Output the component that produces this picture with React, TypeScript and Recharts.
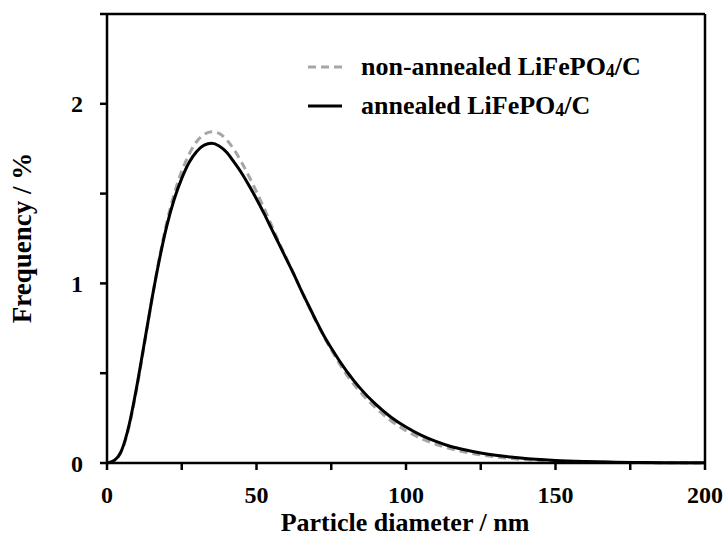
import { LineChart, Line, XAxis, YAxis, ReferenceLine, Label } from "recharts";

const diameters = [
  0, 2.5, 5, 7.5, 10, 12.5, 15, 17.5, 20, 22.5, 25, 27.5, 30, 32.5, 35, 37.5, 40, 42.5, 45, 47.5,
  50, 52.5, 55, 57.5, 60, 62.5, 65, 67.5, 70, 72.5, 75, 77.5, 80, 85, 90, 95, 100, 105, 110, 115,
  120, 125, 130, 135, 140, 145, 150, 160, 170, 180, 190, 200,
];

const nonAnnealed = [
  0, 0.013, 0.07, 0.21, 0.42, 0.66, 0.91, 1.14, 1.34, 1.5, 1.625, 1.72, 1.79, 1.83, 1.845, 1.835, 1.8, 1.745, 1.675, 1.595,
  1.51, 1.42, 1.325, 1.23, 1.14, 1.05, 0.96, 0.87, 0.785, 0.705, 0.63, 0.56, 0.495, 0.39, 0.305, 0.235, 0.18, 0.137, 0.104, 0.079,
  0.06, 0.045, 0.034, 0.025, 0.019, 0.014, 0.01, 0.0055, 0.003, 0.0015, 0.0008, 0.0004,
];

const annealed = [
  0, 0.015, 0.075, 0.22, 0.43, 0.67, 0.91, 1.13, 1.32, 1.47, 1.585, 1.675, 1.735, 1.77, 1.78, 1.765, 1.73, 1.675, 1.615, 1.545,
  1.47, 1.39, 1.305, 1.22, 1.135, 1.05, 0.96, 0.875, 0.79, 0.71, 0.64, 0.575, 0.515, 0.41, 0.325, 0.255, 0.2, 0.155, 0.12, 0.092,
  0.072, 0.056, 0.043, 0.033, 0.025, 0.019, 0.014, 0.008, 0.0045, 0.0025, 0.0013, 0.0007,
];

const xTicks = [0, 25, 50, 75, 100, 125, 150, 175, 200];
const yTicks = [0, 0.5, 1, 1.5, 2, 2.5];

const data = diameters.map((d, i) => ({
  d,
  nonAnnealed: nonAnnealed[i],
  annealed: annealed[i],
}));

const FONT = '"Liberation Serif", "Times New Roman", serif';
const tickStyle = { fontFamily: FONT, fontWeight: 700, fontSize: 24, fill: "#000" };
const titleStyle = { fontFamily: FONT, fontWeight: 700, fontSize: 26 };

const legendRows = [
  { key: "non", stroke: "#a6a6a6", dash: "8 5", pre: "non-annealed LiFePO" },
  { key: "ann", stroke: "#000", dash: undefined, pre: "annealed LiFePO" },
];

function LegendBox() {
  return (
    <div
      style={{
        position: "absolute",
        top: 47,
        left: 307,
        fontFamily: FONT,
        fontWeight: 700,
        fontSize: 26,
        color: "#000",
        whiteSpace: "nowrap",
      }}
    >
      {legendRows.map((r) => (
        <div key={r.key} style={{ display: "flex", alignItems: "center", height: 39 }}>
          <svg width={36} height={10} style={{ marginRight: 18 }}>
            <line x1={1} y1={5} x2={35} y2={5} stroke={r.stroke} strokeWidth={3} strokeDasharray={r.dash} />
          </svg>
          <span>
            {r.pre}
            <span style={{ fontSize: 18, position: "relative", top: 2 }}>4</span>/C
          </span>
        </div>
      ))}
    </div>
  );
}

export default function App() {
  return (
    <div style={{ position: "relative", width: 728, height: 537, background: "#fff" }}>
      <style>{`body{margin:0}`}</style>
      <LineChart width={728} height={537} data={data} margin={{ top: 14, right: 23, bottom: 0, left: 0 }}>
        <XAxis
          dataKey="d"
          type="number"
          domain={[0, 200]}
          ticks={xTicks}
          tickFormatter={(v: number) => (v % 50 === 0 ? String(v) : "")}
          tick={tickStyle}
          tickSize={7}
          tickMargin={16}
          height={74}
          stroke="#000"
          strokeWidth={2.5}
          interval={0}
        >
          <Label
            content={() => (
              <text x={405} y={531} textAnchor="middle" style={titleStyle} fill="#000">
                Particle diameter / nm
              </text>
            )}
          />
        </XAxis>
        <YAxis
          type="number"
          domain={[0, 2.5]}
          ticks={yTicks}
          tickFormatter={(v: number) => (v % 1 === 0 ? String(v) : "")}
          tick={tickStyle}
          tickSize={7}
          tickMargin={17}
          width={107}
          stroke="#000"
          strokeWidth={2.5}
          interval={0}
        >
          <Label
            content={() => (
              <text
                x={31}
                y={238}
                textAnchor="middle"
                transform="rotate(-90 31 238)"
                style={{ ...titleStyle, fontSize: 27 }}
                fill="#000"
              >
                Frequency / %
              </text>
            )}
          />
        </YAxis>
        <ReferenceLine y={2.5} stroke="#000" strokeWidth={2.5} />
        <ReferenceLine x={200} stroke="#000" strokeWidth={2.5} />
        <Line
          dataKey="nonAnnealed"
          type="monotone"
          stroke="#a6a6a6"
          strokeWidth={3}
          strokeDasharray="8 5"
          dot={false}
          isAnimationActive={false}
        />
        <Line dataKey="annealed" type="monotone" stroke="#000" strokeWidth={3} dot={false} isAnimationActive={false} />
      </LineChart>
      <LegendBox />
    </div>
  );
}
